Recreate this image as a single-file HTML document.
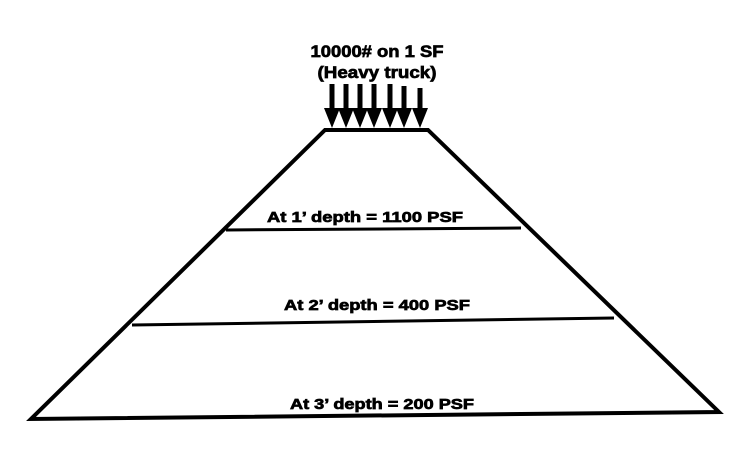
<!DOCTYPE html>
<html><head><style>
html,body{margin:0;padding:0;background:#fff;}
svg{display:block}
text{font-family:"Liberation Sans",Arial,sans-serif;font-weight:bold;fill:#000;stroke:#000;stroke-width:0.7}
</style></head><body>
<svg width="733" height="472" viewBox="0 0 733 472">
<polygon points="325,130 428,130 719,412 31,419" fill="none" stroke="#000" stroke-width="4" stroke-linejoin="miter"/>
<line x1="226" y1="230" x2="521" y2="228" stroke="#000" stroke-width="3"/>
<line x1="132" y1="325" x2="614" y2="318" stroke="#000" stroke-width="3"/>
<g stroke="#000" stroke-width="5" fill="#000">
<line x1="332" y1="84" x2="332" y2="116"/>
<line x1="346" y1="84" x2="346" y2="116"/>
<line x1="360" y1="84" x2="360" y2="116"/>
<line x1="374" y1="84" x2="374" y2="116"/>
<line x1="390" y1="84" x2="390" y2="116"/>
<line x1="404" y1="86" x2="404" y2="116"/>
<line x1="420" y1="88" x2="420" y2="116"/>
</g>
<g fill="#000">
<polygon points="324,108 340,108 332,128"/>
<polygon points="338,108 354,108 346,128"/>
<polygon points="352,108 368,108 360,128"/>
<polygon points="366,108 382,108 374,128"/>
<polygon points="382,108 398,108 390,128"/>
<polygon points="396,108 412,108 404,128"/>
<polygon points="412,108 428,108 420,128"/>
</g>
<text x="377" y="57" font-size="17" text-anchor="middle" textLength="133" lengthAdjust="spacingAndGlyphs">10000# on 1 SF</text>
<text x="377" y="78" font-size="17" text-anchor="middle" textLength="119" lengthAdjust="spacingAndGlyphs">(Heavy truck)</text>
<text x="365" y="222" font-size="15" text-anchor="middle" textLength="196" lengthAdjust="spacingAndGlyphs">At 1’ depth = 1100 PSF</text>
<text x="377" y="310" font-size="15" text-anchor="middle" textLength="186" lengthAdjust="spacingAndGlyphs">At 2’ depth = 400 PSF</text>
<text x="382" y="409" font-size="15" text-anchor="middle" textLength="184" lengthAdjust="spacingAndGlyphs">At 3’ depth = 200 PSF</text>
</svg>
</body></html>
